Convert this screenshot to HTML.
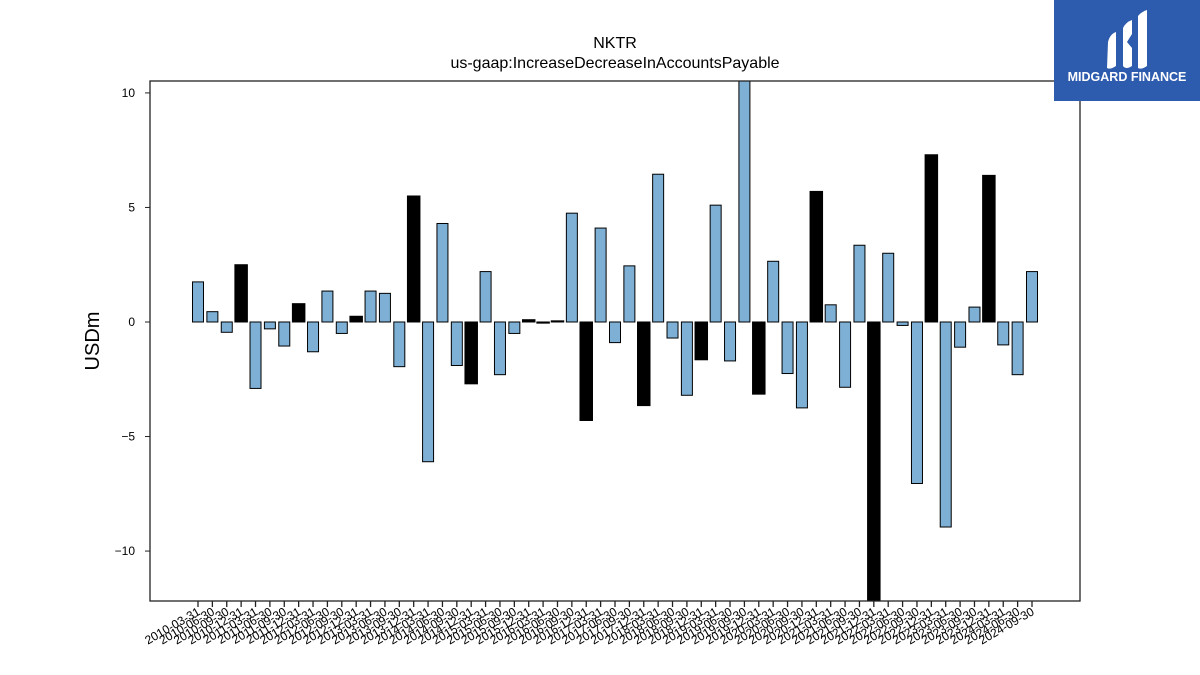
<!DOCTYPE html>
<html><head><meta charset="utf-8"><style>
body{margin:0;background:#fff;}
svg{display:block;font-family:"Liberation Sans","DejaVu Sans",sans-serif;}
</style></head><body>
<svg id="chart" width="1200" height="675" viewBox="0 0 1200 675">
<rect width="1200" height="675" fill="#fff"/>
<text x="615" y="48" text-anchor="middle" font-size="16">NKTR</text>
<text x="615" y="68" text-anchor="middle" font-size="16">us-gaap:IncreaseDecreaseInAccountsPayable</text>
<text transform="translate(99,341) rotate(-90)" text-anchor="middle" font-size="20">USDm</text>
<g id="bars"></g>
<g id="yaxis"></g>
<g id="xaxis"></g>
<rect x="150" y="81" width="930" height="520" fill="none" stroke="#222" stroke-width="1.3"/>
<g>
<rect x="1054" y="0" width="146" height="101" fill="#2d5bad"/>
<path d="M1108 42 Q1110 34 1116 32 L1116 66 Q1110 70 1107 68 Z" fill="#fff"/>
<path d="M1123 28 Q1126 22 1132 20 L1132 34 L1127 42 L1132 48 L1132 66 Q1126 70 1123 66 Z" fill="#fff"/>
<path d="M1138 16 Q1141 12 1147 10 L1147 66 Q1141 70 1138 68 Z" fill="#fff"/>
<text x="1127" y="81" text-anchor="middle" font-size="12.5" font-weight="bold" fill="#fff">MIDGARD FINANCE</text>
</g>
</svg>
<script>
const categories=["2010-03-31","2010-06-30","2010-09-30","2010-12-31","2011-03-31","2011-06-30","2011-09-30","2011-12-31","2012-03-31","2012-06-30","2012-09-30","2012-12-31","2013-03-31","2013-06-30","2013-09-30","2013-12-31","2014-03-31","2014-06-30","2014-09-30","2014-12-31","2015-03-31","2015-06-30","2015-09-30","2015-12-31","2016-03-31","2016-06-30","2016-09-30","2016-12-31","2017-03-31","2017-06-30","2017-09-30","2017-12-31","2018-03-31","2018-06-30","2018-09-30","2018-12-31","2019-03-31","2019-06-30","2019-09-30","2019-12-31","2020-03-31","2020-06-30","2020-09-30","2020-12-31","2021-03-31","2021-06-30","2021-09-30","2021-12-31","2022-03-31","2022-06-30","2022-09-30","2022-12-31","2023-03-31","2023-06-30","2023-09-30","2023-12-31","2024-03-31","2024-06-30","2024-09-30"];
const values=[1.75,0.45,-0.45,2.5,-2.9,-0.3,-1.05,0.8,-1.3,1.35,-0.5,0.25,1.35,1.25,-1.95,5.5,-6.1,4.3,-1.9,-2.7,2.2,-2.3,-0.5,0.1,-0.05,0.05,4.75,-4.3,4.1,-0.9,2.45,-3.65,6.45,-0.7,-3.2,-1.65,5.1,-1.7,10.6,-3.15,2.65,-2.25,-3.75,5.7,0.75,-2.85,3.35,-12.5,3.0,-0.15,-7.05,7.3,-8.95,-1.1,0.65,6.4,-1.0,-2.3,2.2];
const derived=[0,0,0,1,0,0,0,1,0,0,0,1,0,0,0,1,0,0,0,1,0,0,0,1,1,1,0,1,0,0,0,1,0,0,0,1,0,0,0,1,0,0,0,1,0,0,0,1,0,0,0,1,0,0,0,1,0,0,0];
const yTicks=[-10,-5,0,5,10];
const yTickLabels=["\u221210","\u22125","0","5","10"];
const NS="http://www.w3.org/2000/svg";
const top_=81,bot=601,yMax=10.52,yMin=-12.18;
function y(v){return top_+(yMax-v)/(yMax-yMin)*(bot-top_);}
function x(i){return 198+i*(1032-198)/(categories.length-1);}
function mk(t,a){const e=document.createElementNS(NS,t);for(const k in a)e.setAttribute(k,a[k]);return e;}
const bars=document.getElementById('bars');
values.forEach((v,i)=>{
  const yv=Math.max(top_,Math.min(bot,y(v))),y0=y(0);
  const w=derived[i]?12.5:11;
  const r=mk('rect',{x:x(i)-w/2,y:Math.min(yv,y0),width:w,height:Math.max(0.5,Math.abs(yv-y0)),fill:derived[i]?'#000':'#7eb0d5',stroke:'#000','stroke-width':1});
  
  
  bars.appendChild(r);
});
const ya=document.getElementById('yaxis');
yTicks.forEach((t,i)=>{
  const l=mk('line',{x1:145,x2:150,y1:y(t),y2:y(t),stroke:'#222'});
  
  
  ya.appendChild(l);
  const tx=mk('text',{x:135,y:y(t)+4,'text-anchor':'end','font-size':12});
  
  
  tx.textContent=yTickLabels[i];ya.appendChild(tx);
});
const xa=document.getElementById('xaxis');
categories.forEach((c,i)=>{
  const l=mk('line',{x1:x(i),x2:x(i),y1:601,y2:607,stroke:'#222','stroke-width':1.3});
  
  
  xa.appendChild(l);
  const tx=mk('text',{transform:'translate('+(x(i)+3)+',614) rotate(-30)','text-anchor':'end','font-size':12});
  
  
  tx.textContent=c;xa.appendChild(tx);
});
</script>
</body></html>
